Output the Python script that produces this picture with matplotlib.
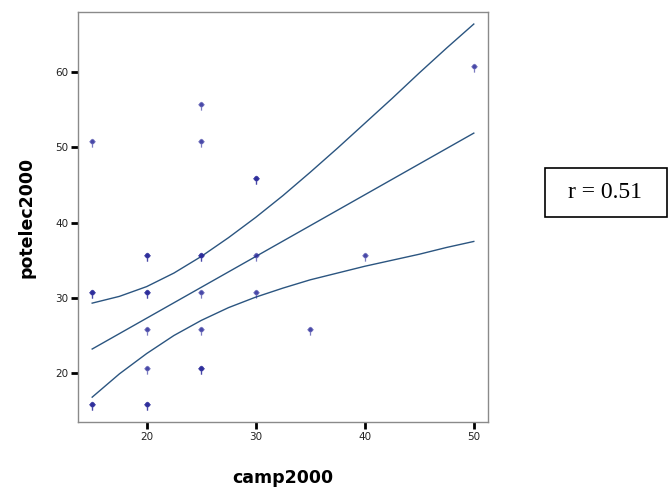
import matplotlib
matplotlib.use("Agg")
import matplotlib.pyplot as plt
from matplotlib.path import Path
from matplotlib.patches import Rectangle

# scatter data (repeated points appear darker in the original)
camp2000 = [15, 15, 15, 15, 15, 20, 20, 20, 20, 20, 20, 20, 20,
            25, 25, 25, 25, 25, 25, 25, 25, 30, 30, 30, 30, 35, 40, 50]
potelec2000 = [15.7, 15.7, 30.7, 30.7, 50.7, 15.7, 15.7, 20.6, 25.7, 30.7, 30.7, 35.6, 35.6,
               20.6, 20.6, 25.7, 30.7, 35.6, 35.6, 50.7, 55.6, 30.7, 35.6, 45.8, 45.8,
               25.7, 35.6, 60.7]

# fit line and confidence band
fit_mid_x = [15, 50]
fit_mid = [23.2, 51.9]
band_x = [15, 17.5, 20, 22.5, 25, 27.5, 30, 32.5, 35, 37.5, 40, 42.5, 45, 47.5, 50]
band_upper = [29.3, 30.2, 31.5, 33.3, 35.5, 38.0, 40.7, 43.6, 46.7, 49.9, 53.2, 56.5, 59.9, 63.2, 66.4]
band_lower = [16.8, 19.9, 22.6, 25.0, 27.0, 28.7, 30.1, 31.3, 32.4, 33.3, 34.2, 35.0, 35.8, 36.7, 37.5]

xticks = [20, 30, 40, 50]
yticks = [20, 30, 40, 50, 60]
r_text = "r = 0.51"

# marker: circle with small cross arms and a stem below
circ = Path.circle((0, 0.15), 0.38)
arms = Path([(-0.6, 0.15), (0.6, 0.15)], [Path.MOVETO, Path.LINETO])
stem = Path([(0, 0.7), (0, -1.0)], [Path.MOVETO, Path.LINETO])
mk = Path.make_compound_path(circ, arms, stem)

fig = plt.figure(figsize=(6.69, 4.92), dpi=100)
ax = fig.add_axes([0.1166, 0.1423, 0.6128, 0.8333])

ax.scatter(camp2000, potelec2000, marker=mk, s=55, facecolor="#2a2a9a",
           edgecolor="#2a2a9a", linewidths=0.9, alpha=0.62, zorder=3)

line_c = "#2b5580"
ax.plot(fit_mid_x, fit_mid, color=line_c, lw=1.0, zorder=2)
ax.plot(band_x, band_upper, color=line_c, lw=1.0, zorder=2)
ax.plot(band_x, band_lower, color=line_c, lw=1.0, zorder=2)

ax.set_xlim(13.7, 51.3)
ax.set_ylim(13.5, 68.0)
ax.set_xticks(xticks)
ax.set_yticks(yticks)
ax.tick_params(direction="out", length=5, width=2, color="black",
               labelsize=7.5, labelcolor="#222222", pad=2)

for s in ax.spines.values():
    s.set_color("#8a8a8a")
    s.set_linewidth(1.0)

ax.set_xlabel("camp2000", fontsize=12.5, fontweight="bold", labelpad=20)
ax.set_ylabel("potelec2000", fontsize=12.5, fontweight="bold", labelpad=14)

# r box
fig.patches.append(Rectangle((0.8146, 0.559), 0.1825, 0.0995, transform=fig.transFigure,
                             fc="white", ec="black", lw=1.2))
fig.text(0.905, 0.6085, r_text, family="Liberation Serif", fontsize=17,
         ha="center", va="center")

fig.savefig("out.png", dpi=100)
